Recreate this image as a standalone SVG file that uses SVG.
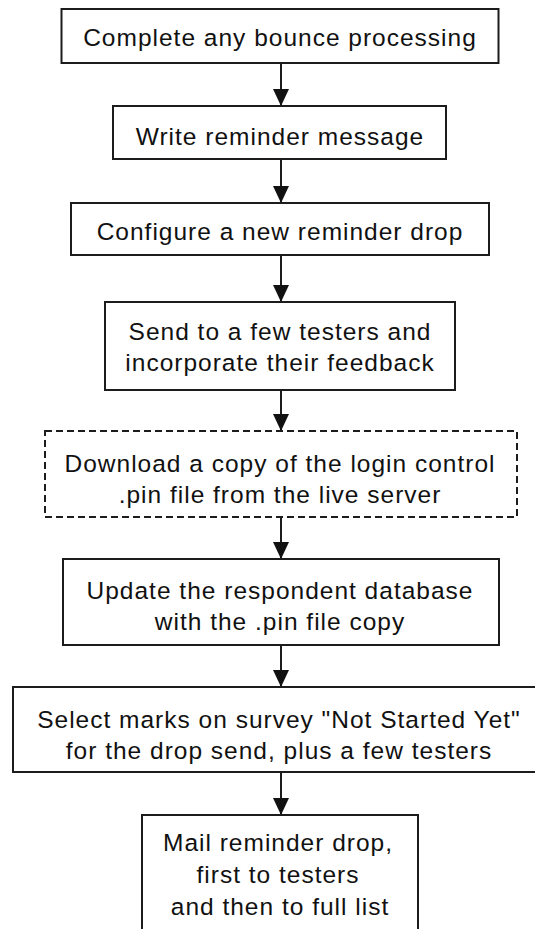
<svg xmlns="http://www.w3.org/2000/svg" width="535" height="929" viewBox="0 0 535 929">
<defs>
<marker id="arr" viewBox="0 0 17 16" refX="17" refY="8" markerWidth="17" markerHeight="16" markerUnits="userSpaceOnUse" orient="auto">
<path d="M0,0 L17,8 L0,16 z" fill="#111"/>
</marker>
<style>
.box{fill:#fff;stroke:#1c1c1c;stroke-width:2}
.dash{fill:#fff;stroke:#1c1c1c;stroke-width:2;stroke-dasharray:7 4}
.t{font-family:"Liberation Sans",Arial,sans-serif;font-size:24.5px;letter-spacing:1px;fill:#111;text-anchor:middle}
.c{stroke:#1c1c1c;stroke-width:2;fill:none;marker-end:url(#arr)}
</style>
</defs>
<rect width="535" height="929" fill="#fff"/>
<g id="connectors">
<line class="c" x1="281" y1="63" x2="281" y2="106"/>
<line class="c" x1="281" y1="159" x2="281" y2="203"/>
<line class="c" x1="281" y1="255" x2="281" y2="302"/>
<line class="c" x1="281" y1="390" x2="281" y2="431"/>
<line class="c" x1="281" y1="517" x2="281" y2="559"/>
<line class="c" x1="281" y1="645" x2="281" y2="687"/>
<line class="c" x1="281" y1="772" x2="281" y2="815"/>
</g>
<g id="n1">
<rect class="box" x="61.5" y="9" width="437" height="54"/>
<text class="t" x="280" y="46">Complete any bounce processing</text>
</g>
<g id="n2">
<rect class="box" x="113" y="106" width="333" height="53"/>
<text class="t" x="280" y="145">Write reminder message</text>
</g>
<g id="n3">
<rect class="box" x="71" y="203" width="418" height="52"/>
<text class="t" x="280" y="240">Configure a new reminder drop</text>
</g>
<g id="n4">
<rect class="box" x="105" y="302" width="350" height="88"/>
<text class="t" x="280" y="340">Send to a few testers and</text>
<text class="t" x="280" y="371">incorporate their feedback</text>
</g>
<g id="n5">
<rect class="dash" x="45" y="431" width="472" height="86"/>
<text class="t" x="280" y="472">Download a copy of the login control</text>
<text class="t" x="280" y="503">.pin file from the live server</text>
</g>
<g id="n6">
<rect class="box" x="63" y="559" width="436" height="86"/>
<text class="t" x="280" y="599">Update the respondent database</text>
<text class="t" x="280" y="630">with the .pin file copy</text>
</g>
<g id="n7">
<rect class="box" x="13" y="687" width="535" height="85"/>
<text class="t" x="279" y="728">Select marks on survey "Not Started Yet"</text>
<text class="t" x="279" y="759">for the drop send, plus a few testers</text>
</g>
<g id="n8">
<rect class="box" x="142" y="815" width="276" height="130"/>
<text class="t" x="278" y="851">Mail reminder drop,</text>
<text class="t" x="278" y="883">first to testers</text>
<text class="t" x="280" y="915">and then to full list</text>
</g>
</svg>
